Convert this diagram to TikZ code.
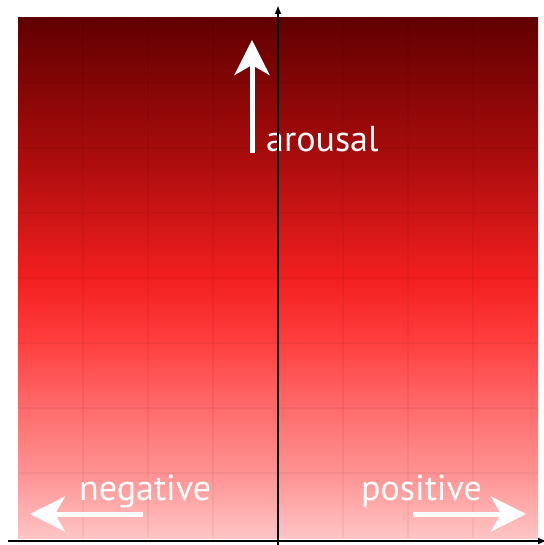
\documentclass[tikz,border=0pt]{standalone}
\usepackage{fontspec}
\setsansfont{PT Sans}
\usetikzlibrary{arrows.meta}
\pgfdeclareverticalshading{arousalfill}{100bp}{%
  rgb(0bp)=(1,0.77,0.77); rgb(25bp)=(1,0.77,0.77); rgb(31bp)=(1,0.58,0.58);
  rgb(37.5bp)=(1,0.42,0.42); rgb(44bp)=(1,0.24,0.24); rgb(50bp)=(0.95,0.12,0.12);
  rgb(61bp)=(0.68,0.05,0.05); rgb(75bp)=(0.38,0,0); rgb(100bp)=(0.38,0,0)}

\begin{document}
\begin{tikzpicture}[x=1pt, y=-1pt, font=\sffamily,
  gridline/.style={black, opacity=0.045, line width=1.5pt},
  axis/.style={black, line width=1.8pt},
  tip/.style={-{Latex[length=9pt, width=7pt]}},
  bigarrow/.style={white, line width=5pt, -{Stealth[length=35pt, width=35pt, inset=10pt]}},
  lab/.style={white, font=\sffamily\fontsize{36}{36}\selectfont, inner sep=0pt, anchor=base west}]
  \useasboundingbox (0,0) rectangle (543,545);
  % background and grid
  \shade[shading=arousalfill] (18,18) rectangle (538,538);
  \foreach \g in {83,148,...,473} {
    \draw[gridline] (\g,18) -- (\g,538);
    \draw[gridline] (18,\g) -- (538,\g);
  }
  % labels
  \node[lab] (arousal) at (266,152) {arousal};
  \node[lab] (neg) at (79,500) {negative};
  \node[lab] (pos) at (361,500) {positive};
  % white arrows
  \coordinate (upTail) at (252,153);
  \coordinate (upTip) at (252,40);
  \coordinate (negTail) at (143,514);
  \coordinate (negTip) at (30,514);
  \coordinate (posTail) at (413,514);
  \coordinate (posTip) at (526,514);
  \draw[bigarrow] (upTail) -- (upTip);
  \draw[bigarrow] (negTail) -- (negTip);
  \draw[bigarrow] (posTail) -- (posTip);
  % axes
  \coordinate (yBot) at (278,545);
  \coordinate (yTop) at (278,5);
  \coordinate (xLeft) at (8,541);
  \coordinate (xRight) at (547,541);
  \draw[axis, tip] (yBot) -- (yTop);
  \draw[axis, tip] (xLeft) -- (xRight);
\end{tikzpicture}
\end{document}
